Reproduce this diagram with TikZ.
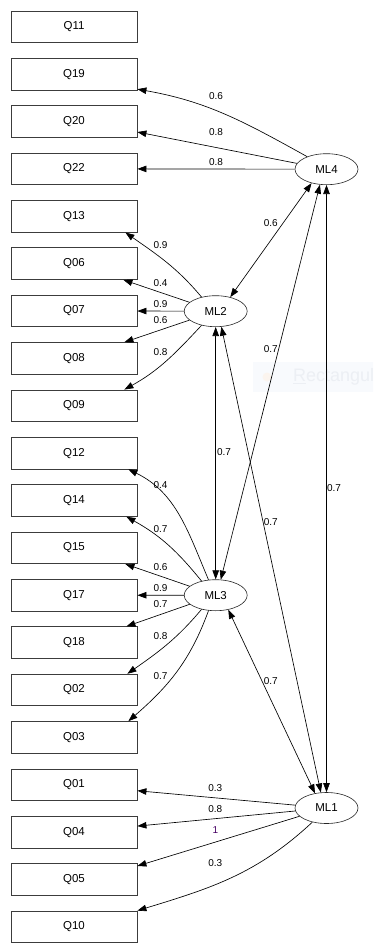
\documentclass[tikz,border=0pt]{standalone}
\usepackage{fontspec}
\setmainfont{Liberation Sans}
\usetikzlibrary{shapes.geometric,arrows.meta}

\definecolor{boxline}{RGB}{60,60,60}
\definecolor{unitweight}{RGB}{70,0,100}
\definecolor{tipbg}{RGB}{248,250,253}
\definecolor{tiptext}{RGB}{236,239,244}
\definecolor{tipdot}{RGB}{251,244,238}

\begin{document}
\begin{tikzpicture}[x=1pt,y=1pt,
  item/.style={draw=boxline, line width=0.8pt, fill=white,
    minimum width=126pt, minimum height=31.6pt, inner sep=0pt,
    font=\fontsize{11.5}{13}\selectfont},
  latent/.style={ellipse, draw=black!85, line width=0.6pt, fill=white,
    minimum width=63pt, minimum height=31pt, inner sep=0pt,
    font=\fontsize{11.5}{13}\selectfont},
  tip/.tip={Triangle[length=9pt,width=6.5pt]},
  load/.style={-tip, line width=0.65pt},
  cov/.style={tip-tip, line width=0.65pt},
  wt/.style={font=\fontsize{10}{12}\selectfont, inner sep=0pt}
]
\useasboundingbox (0,0) rectangle (373,-952);

% faint tooltip overlay
\begin{scope}
  \clip (0,0) rectangle (373,-952);
  \fill[tipbg] (253,-361.7) rectangle (380,-391.7);
  \fill[tipdot] (267,-377) circle (4.5);
  \node[anchor=west, text=tiptext, inner sep=0pt,
        font=\fontsize{18}{20}\selectfont] (tiplabel) at (293,-377) {\underline{R}ectangular};
\end{scope}

% observed items
\foreach \n [count=\i from 0] in {Q11,Q19,Q20,Q22,Q13,Q06,Q07,Q08,Q09,Q12,Q14,Q15,Q17,Q18,Q02,Q03,Q01,Q04,Q05,Q10}
  \node[item] (\n) at (74,{-26.8-47.37*\i}) {\n};

% latent factors
\node[latent] (ML4) at (326.5,-169.2) {ML4};
\node[latent] (ML2) at (215.7,-311.2) {ML2};
\node[latent] (ML3) at (215.7,-595.2) {ML3};
\node[latent] (ML1) at (326.5,-808)   {ML1};

% ML4 loadings
\draw[load] (ML4.147) to[out=151,in=-10] ([yshift=-15pt]Q19.east);
\draw[load] (ML4) -- ([yshift=-10.5pt]Q20.east);
\draw[load] (ML4) -- (Q22.east);

% ML2 loadings
\draw[load] (ML2.135) to[out=130,in=-35] ([xshift=-12pt]Q13.south east);
\draw[load] (ML2) -- ([xshift=-14pt]Q06.south east);
\draw[load] (ML2) -- (Q07.east);
\draw[load] (ML2) -- ([xshift=-13pt]Q08.north east);
\draw[load] (ML2.225) to[out=227,in=29] ([xshift=-13pt]Q09.north east);

% ML3 loadings
\draw[load] (ML3.115) to[out=113,in=-26] ([xshift=-9pt]Q12.south east);
\draw[load] (ML3.135) to[out=129,in=-29] ([xshift=-11pt]Q14.south east);
\draw[load] (ML3) -- ([xshift=-12pt]Q15.south east);
\draw[load] (ML3) -- (Q17.east);
\draw[load] (ML3) -- ([xshift=-11pt]Q18.north east);
\draw[load] (ML3.225) to[out=230,in=35] ([xshift=-10pt]Q02.north east);
\draw[load] (ML3.245) to[out=250,in=41] ([xshift=-9pt]Q03.north east);

% ML1 loadings
\draw[load] (ML1) -- ([yshift=-6pt]Q01.east);
\draw[load] (ML1) -- ([yshift=6pt]Q04.east);
\draw[load] (ML1) -- ([yshift=13.5pt]Q05.east);
\draw[load] (ML1.225) to[out=223,in=17] (Q10.north east);

% factor correlations
\draw[cov] (ML4.223) -- (ML2.44);
\draw[cov] (ML4.247) -- (ML3.72);
\draw[cov] (ML4.south) -- (ML1.north);
\draw[cov] (ML2.south) -- (ML3.north);
\draw[cov] (ML2.290) -- (ML1.110);
\draw[cov] (ML3.311) -- (ML1.128);

% loading weights
\node[wt] (w19) at (216,-95.7)  {0.6};
\node[wt] (w20) at (216,-132)   {0.8};
\node[wt] (w22) at (216,-162.3) {0.8};

\node[wt] (w13) at (160.6,-245)   {0.9};
\node[wt] (w06) at (160.6,-283.3) {0.4};
\node[wt] (w07) at (160.6,-304)   {0.9};
\node[wt] (w08) at (160.6,-320)   {0.6};
\node[wt] (w09) at (160.6,-352.3) {0.8};

\node[wt] (w12) at (160.6,-485.3) {0.4};
\node[wt] (w14) at (160.6,-529)   {0.7};
\node[wt] (w15) at (160.6,-566.7) {0.6};
\node[wt] (w17) at (160.6,-588.3) {0.9};
\node[wt] (w18) at (160.6,-604)   {0.7};
\node[wt] (w02) at (160.6,-636)   {0.8};
\node[wt] (w03) at (160.6,-676)   {0.7};

\node[wt] (w01) at (215.3,-788.3) {0.3};
\node[wt] (w04) at (215.3,-809.3) {0.8};
\node[wt, text=unitweight] (w05) at (215.3,-830) {1};
\node[wt] (w10) at (215.3,-863.3) {0.3};

% correlation weights
\node[wt] (c42) at (270.7,-223.3) {0.6};
\node[wt] (c43) at (270.7,-349.3) {0.7};
\node[wt] (c23) at (224,-451.7)   {0.7};
\node[wt] (c41) at (334,-488.3)   {0.7};
\node[wt] (c21) at (270.7,-522.3) {0.7};
\node[wt] (c31) at (270.7,-681)   {0.7};
\end{tikzpicture}
\end{document}
